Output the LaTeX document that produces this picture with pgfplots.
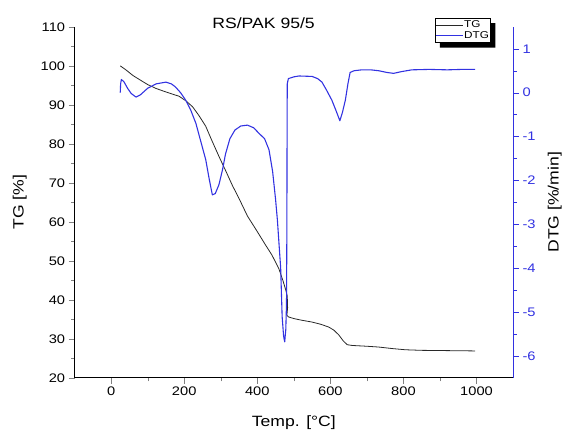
\documentclass[border=0pt]{standalone}
\usepackage{fontspec}
\setmainfont{Liberation Sans}[FakeStretch=1.18]
\usepackage{pgfplots}
\pgfplotsset{compat=1.18}
\definecolor{dtgblue}{RGB}{50,50,225}
\definecolor{tgblack}{RGB}{40,40,40}

\pgfplotsset{
  twin/.style={
    scale only axis, width=441pt, height=353pt,
    xmin=-100, xmax=1100,
    tick align=outside,
    major tick length=6pt, minor tick length=3.5pt,
    /pgf/number format/assume math mode=true,
    /pgf/number format/set thousands separator={},
    tick label style={font=\fontsize{12.5}{14}\selectfont},
    label style={font=\fontsize{15}{16}\selectfont},
    every axis plot/.append style={line join=round},
  }
}

\begin{document}
\begin{tikzpicture}
\begin{axis}[twin,
  clip=false,
  axis x line*=bottom, axis y line*=left,
  axis line style={line width=1pt},
  ymin=20, ymax=110, ytick={20,30,...,110}, minor y tick num=1,
  xtick={0,200,...,1000}, minor x tick num=1,
  xlabel={Temp. [°C]}, ylabel={TG [\%]},
  x label style={at={(axis description cs:0.5,-0.127)}, anchor=center},
  y label style={at={(axis description cs:-0.125,0.5)}, anchor=center},
]
  \addplot[tgblack, line width=0.8pt] coordinates {
    (25,100) (40,99) (60,97.5) (86,96) (100,95.2) (123,94.2) (150,93.3)
    (186,92.2) (205,91) (223,89.5) (240,87.3) (259,84.5) (275,81) (295,76.8)
    (315,72.8) (332,69.3) (350,66) (373,61.5) (400,57.5) (423,54) (440,51.5)
    (459,48) (470,45) (478,42.5) (482,41) (483,38) (481,36) (486,35.6)
    (500,35.2) (520,34.8) (550,34.3) (575,33.7) (596,33) (610,32.2) (623,31)
    (635,29.5) (646,28.5) (660,28.3) (700,28.1) (732,27.9) (770,27.5)
    (805,27.2) (850,27.05) (900,27) (950,26.95) (996,26.9)};
  \node[font=\fontsize{15}{16}\selectfont] at (rel axis cs:0.431,1.01) {RS/PAK 95/5};
  \coordinate (O) at (rel axis cs:0,0);
  \coordinate (T) at (rel axis cs:1,1);
\end{axis}
\begin{axis}[twin,
  axis x line=none, axis y line*=right,
  y axis line style={dtgblue, line width=1pt},
  ytick style={dtgblue}, yticklabel style={text=dtgblue},
  ymin=-6.5, ymax=1.5, ytick={-6,-5,...,1}, minor y tick num=1,
  ylabel={DTG [\%/min]},
  y label style={at={(axis description cs:1.095,0.5)}, anchor=center},
  legend image code/.code={%
    \draw[#1] plot coordinates {(0pt,0pt) (27pt,0pt)};},
  legend style={name=leg, at={(0.948,1.0246)}, anchor=north east,
    draw=black, fill=white, line width=0.6pt,
    font=\fontsize{10}{10}\selectfont, inner xsep=0pt, inner ysep=1pt,
    row sep=-1pt, nodes={inner xsep=1pt, inner ysep=1.5pt}},
  legend cell align=left,
]
  \addlegendimage{tgblack, line width=0.8pt}
  \addlegendentry{TG}
  \addlegendimage{dtgblue, line width=1.1pt}
  \addlegendentry{DTG}
  \addplot[dtgblue, line width=1.1pt, forget plot] coordinates {
    (25,0.0) (26,0.2) (28,0.3) (35,0.25) (45,0.1) (55,-0.02) (68,-0.1)
    (80,-0.05) (100,0.1) (123,0.2) (150,0.24) (165,0.2) (176,0.13) (190,0.0)
    (204,-0.17) (218,-0.4) (232,-0.7) (245,-1.1) (259,-1.53) (268,-1.95)
    (277,-2.33) (285,-2.3) (295,-2.1) (305,-1.75) (313,-1.4) (325,-1.05)
    (339,-0.85) (355,-0.76) (373,-0.74) (390,-0.8) (405,-0.93) (420,-1.05)
    (432,-1.3) (442,-1.8) (450,-2.43) (455,-2.9) (464,-4.0) (468,-5.1)
    (472,-5.55) (475,-5.68) (478,-5.4) (480,-4.8) (481,-3) (481.5,-1)
    (482,0.2) (485,0.32) (500,0.36) (514,0.38) (550,0.37) (565,0.32)
    (577,0.24) (590,0.05) (604,-0.17) (615,-0.4) (626,-0.64) (633,-0.45)
    (641,-0.17) (648,0.2) (654,0.46) (665,0.5) (686,0.52) (710,0.52)
    (732,0.5) (755,0.46) (773,0.44) (795,0.48) (823,0.52) (870,0.53)
    (920,0.52) (960,0.53) (996,0.53)};
\end{axis}
% legend drop shadow (right and bottom strips)
\fill[black] ([shift={(0.3pt,-5pt)}]leg.north east) -- ([shift={(5pt,-5pt)}]leg.north east)
  -- ([shift={(5pt,-5pt)}]leg.south east) -- ([shift={(5pt,-5pt)}]leg.south west)
  -- ([shift={(5pt,-0.3pt)}]leg.south west) -- ([shift={(0.3pt,-0.3pt)}]leg.south east) -- cycle;
\path ([shift={(-75pt,-56pt)}]O) rectangle ([shift={(49pt,27pt)}]T);
\end{tikzpicture}
\end{document}
